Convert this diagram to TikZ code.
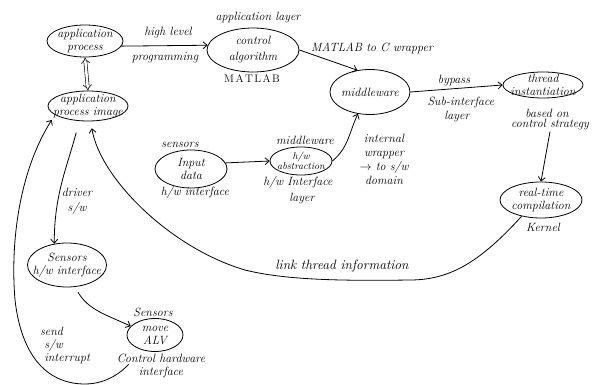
\documentclass[tikz,border=0pt]{standalone}
\usetikzlibrary{shapes.geometric,arrows.meta}
\begin{document}
\begin{tikzpicture}[x=1pt,y=-1pt,
  every node/.style={font=\itshape\fontsize{12}{13}\selectfont},
  ell/.style={draw, ellipse, inner sep=0pt, line width=0.8pt},
  lbl/.style={inner sep=1pt, align=center},
  sm/.style={font=\itshape\fontsize{10}{10.5}\selectfont},
  arr/.style={line width=0.8pt, -{Straight Barb[length=4pt,width=7pt]}},
  dbl/.style={double, double distance=2.5pt, line width=0.6pt, {Implies}-{Implies}},
]
\useasboundingbox (0,0) rectangle (595,385);

% ellipses
\node[ell, minimum width=76pt, minimum height=32pt, label={[lbl]center:application\\process}] (ap) at (85,41) {};
\node[ell, minimum width=80pt, minimum height=30pt, label={[lbl]center:application\\process image}] (img) at (88,106) {};
\node[ell, minimum width=92pt, minimum height=44pt, label={[lbl]center:control\\[3pt]algorithm}] (ctrl) at (253,50) {};
\node[ell, minimum width=80pt, minimum height=45pt, label={[lbl]center:middleware}] (mid) at (370,92) {};
\node[ell, minimum width=80pt, minimum height=26pt, label={[lbl]center:thread\\instantiation}] (thr) at (543,85) {};
\node[ell, minimum width=82pt, minimum height=36pt, label={[lbl]center:real-time\\compilation}] (rtc) at (541,200) {};
\node[ell, minimum width=72pt, minimum height=38pt, label={[lbl]center:Input\\data}] (inp) at (191,169) {};
\node[ell, minimum width=62pt, minimum height=28pt, label={[lbl,sm]center:h/w\\abstraction}] (hwa) at (301,161) {};
\node[ell, minimum width=79pt, minimum height=44pt, label={[lbl]center:Sensors\\h/w interface}] (shw) at (67,265) {};
\node[ell, minimum width=56pt, minimum height=33pt, label={[lbl]center:move\\ALV}] (alv) at (155,335) {};

% labels
\node[lbl] (hl) at (168,33) {high level};
\node[lbl] (pg) at (165,58) {programming};
\node[lbl] (al) at (258,18) {application layer};
\node[lbl, font=\upshape\fontsize{11}{12}\selectfont] (ml) at (252,79) {M\kern1.5pt A\kern1.5pt T\kern1.5pt L\kern1.5pt A\kern1.5pt B};
\node[lbl] (mc) at (372,48) {MATLAB to C wrapper};
\node[lbl] (bp) at (454,81) {bypass};
\node[lbl] (si) at (461,103) {Sub-interface};
\node[lbl] (ly1) at (457,117) {layer};
\node[lbl] (bo) at (547,113) {based on};
\node[lbl] (cs) at (550,125) {control strategy};
\node[lbl] (kn) at (543,227) {Kernel};
\node[lbl] (sn) at (180,145) {sensors};
\node[lbl] (hi) at (195,193) {h/w interface};
\node[lbl] (mw) at (305,140) {middleware};
\node[lbl] (hi2) at (298,183) {h/w Interface};
\node[lbl] (ly2) at (302,199) {layer};
\node[lbl] (iw) at (384,159) {internal\\[1pt]wrapper\\[1pt]$\to$ to s/w\\[1pt]domain};
\node[lbl] (dr) at (77,201) {driver\\[2pt]s/w};
\node[lbl] (sa) at (153,312) {Sensors};
\node[lbl] (ch) at (161,366) {Control hardware\\interface};
\node[lbl, align=left] (si2) at (65,345) {send\\\ s/w\\\ interrupt};
\node[lbl, font=\itshape\fontsize{13.5}{14}\selectfont] (lt) at (342,266) {link thread information};

% connectors
\draw[dbl] (ap.south) -- (img.north);
\draw[arr] (ap.-8) -- (ctrl.174);
\draw[arr] (ctrl.east) -- (mid.120);
\draw[arr] (mid.east) -- (thr.west);
\draw[arr] (cs.south) -- (rtc.north);
\draw[arr] (inp.10) -- (hwa.west);
\draw[arr] (hwa.east) to[out=40,in=-115] (mid.241);
\draw[arr, shorten <=12pt] (img.240) to[out=-105,in=90] (shw.121);
\draw[arr, shorten <=6pt] (shw.-70) to[out=-60,in=155] (alv.160);
\draw[arr, shorten >=7pt] (rtc.220) .. controls (480,262) and (450,280) .. (410,280)
   .. controls (340,281) and (285,280) .. (245,270)
   .. controls (170,248) and (100,178) .. (img.280);
\draw[arr, shorten <=20pt, shorten >=6pt] (alv.232) .. controls (125,368) and (110,384) .. (85,384)
   .. controls (50,384) and (22,360) .. (15,300)
   .. controls (10,240) and (20,170) .. (img.195);
\end{tikzpicture}
\end{document}
